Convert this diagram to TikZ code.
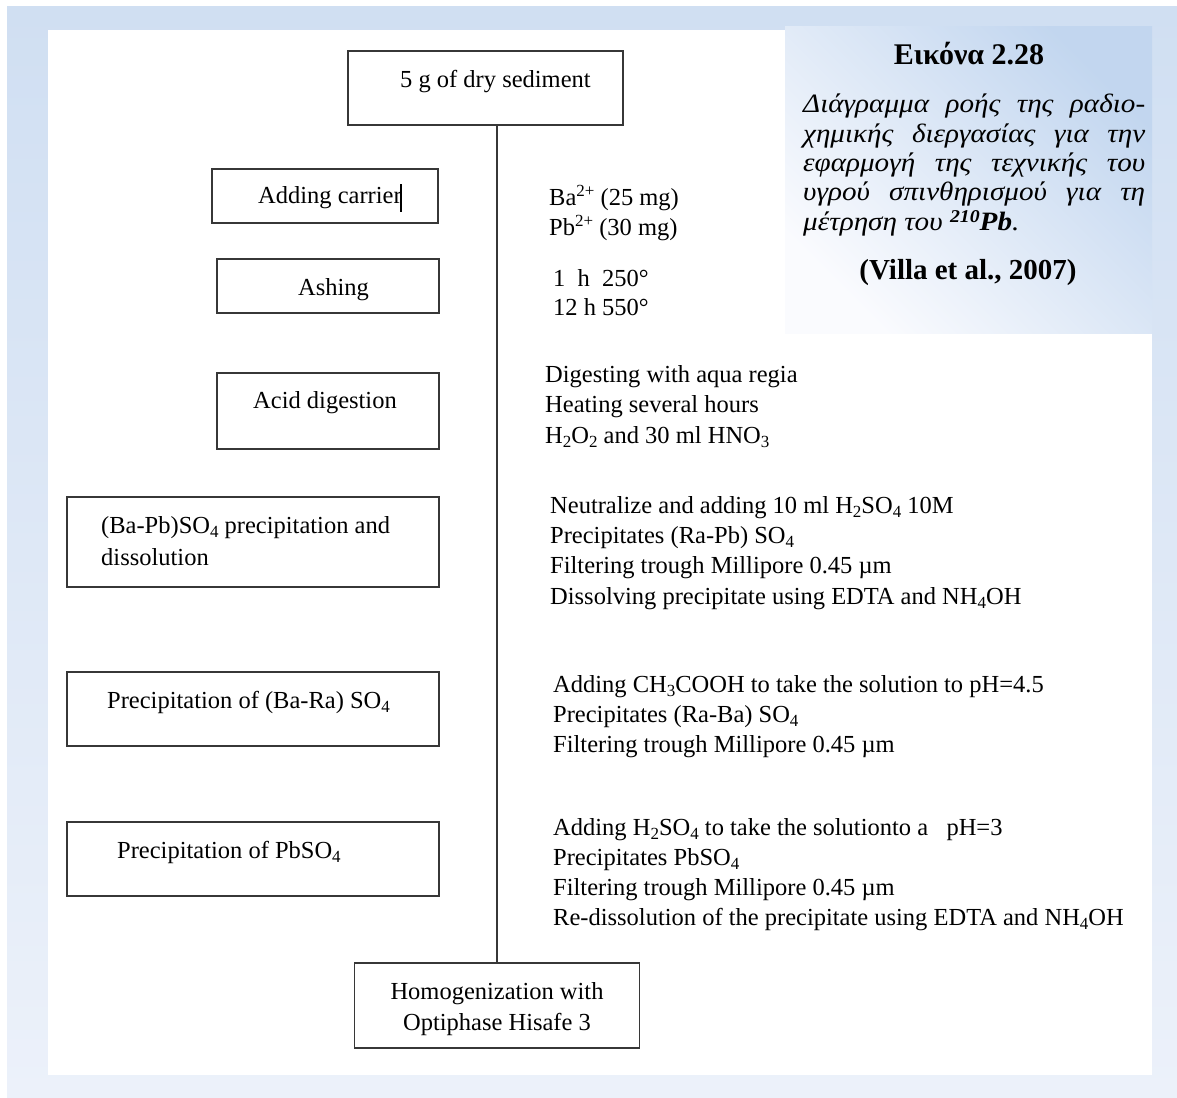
\documentclass[tikz,border=0pt]{standalone}
\usepackage{fontspec}
\setmainfont{Liberation Serif}
\newfontfamily\capfont[FakeStretch=1.1]{Liberation Serif}
\definecolor{outerA}{RGB}{208,223,242}
\definecolor{outerB}{RGB}{236,241,250}
\definecolor{capblue}{RGB}{194,214,239}
\definecolor{capwhite}{RGB}{250,251,254}
\definecolor{boxline}{RGB}{55,55,55}
\newcommand\chsb[1]{\raisebox{-4.5pt}{\fontsize{17}{17}\selectfont #1}}
\newcommand\chsp[1]{\raisebox{9pt}{\fontsize{17}{17}\selectfont #1}}
\tikzset{
  stepbox/.style={draw=boxline, line width=1.6pt, rectangle, inner sep=0pt},
  lbl/.style={anchor=base west, inner sep=0pt, align=left, font=\fontsize{24.5}{30}\selectfont},
  flowline/.style={draw=boxline, line width=1.6pt},
}
\begin{document}
\begin{tikzpicture}[x=1pt,y=-1pt]
\useasboundingbox (0,0) rectangle (1177,1097);
% background frame
\shade[top color=outerA, bottom color=outerB] (7,7) rectangle (1177,1097);
\fill[white] (48,30) rectangle (1152,1075);
\shade[top color=capblue, bottom color=capwhite, shading angle=-45] (785,27) rectangle (1152,333);

% caption
\node[anchor=base, inner sep=0pt, font=\bfseries\fontsize{30}{36}\selectfont] (captitle) at (969,65) {Εικόνα 2.28};
\node[anchor=base west, inner sep=0pt, text width=342pt, align=justify,
      font=\capfont\itshape\fontsize{26.5}{29.3}\selectfont] (capbody) at (803,113)
  {\hyphenpenalty=10000 Διάγραμμα ροής της ραδιο-\linebreak χημικής διεργασίας για την\linebreak εφαρμογή της τεχνικής του\linebreak υγρού σπινθηρισμού για τη\linebreak μέτρηση του \raisebox{8pt}{\fontsize{18}{18}\selectfont\bfseries 210}\textbf{Pb}.};
\node[anchor=base, inner sep=0pt, font=\bfseries\fontsize{29}{34}\selectfont] (capsrc) at (968,279) {(Villa et al., 2007)};

% boxes
\node[stepbox, minimum width=275pt, minimum height=74pt] (top) at (485.5,88) {};
\node[stepbox, minimum width=226pt, minimum height=54pt] (carrier) at (325,196) {};
\node[stepbox, minimum width=222pt, minimum height=54pt] (ashing) at (328,286) {};
\node[stepbox, minimum width=222pt, minimum height=76pt] (acid) at (328,411) {};
\node[stepbox, minimum width=372pt, minimum height=90pt] (bapb) at (253,542) {};
\node[stepbox, minimum width=372pt, minimum height=74pt] (bara) at (253,709) {};
\node[stepbox, minimum width=372pt, minimum height=74pt] (pbso) at (253,859) {};
\node[stepbox, minimum width=285pt, minimum height=85pt] (home) at (497,1005.5) {};

% connector
\draw[flowline] (home.north) -- (home.north |- top.south);

% box labels
\node[lbl] (topt) at (400,88) {5 g of dry sediment};
\node[lbl] (carriert) at (258,203) {Adding carrier};
\draw[line width=1.4pt, black] (401,184) -- (401,212);
\node[lbl] (ashingt) at (298,295) {Ashing};
\node[lbl] (acidt) at (253,408) {Acid digestion};
\node[lbl, font=\fontsize{24.5}{32}\selectfont] (bapbt) at (101,565) {(Ba-Pb)SO\chsb{4} precipitation and\\dissolution};
\node[lbl] (barat) at (107,708) {Precipitation of (Ba-Ra) SO\chsb{4}};
\node[lbl] (pbsot) at (117,858) {Precipitation of PbSO\chsb{4}};
\node[anchor=base, inner sep=0pt, align=center, font=\fontsize{24.5}{31}\selectfont] (homet) at (497,1030) {Homogenization with\\Optiphase Hisafe 3};

% side notes
\node[lbl] (carriern) at (549,235) {Ba\chsp{2+} (25 mg)\\Pb\chsp{2+} (30 mg)};
\node[lbl, font=\fontsize{24.5}{29}\selectfont] (ashingn) at (553,315) {1\ \ h\ \ 250°\\12 h 550°};
\node[lbl, font=\fontsize{24.5}{30.5}\selectfont] (acidn) at (545,443) {Digesting with aqua regia\\Heating several hours\\H\chsb{2}O\chsb{2} and 30 ml HNO\chsb{3}};
\node[lbl, font=\fontsize{24.5}{30.3}\selectfont] (bapbn) at (550,604) {Neutralize and adding 10 ml H\chsb{2}SO\chsb{4} 10M\\Precipitates (Ra-Pb) SO\chsb{4}\\Filtering trough Millipore 0.45 µm\\Dissolving precipitate using EDTA and NH\chsb{4}OH};
\node[lbl] (baran) at (553,752) {Adding CH\chsb{3}COOH to take the solution to pH=4.5\\Precipitates (Ra-Ba) SO\chsb{4}\\Filtering trough Millipore 0.45 µm};
\node[lbl] (pbson) at (553,925) {Adding H\chsb{2}SO\chsb{4} to take the solutionto a\ \ \ pH=3\\Precipitates PbSO\chsb{4}\\Filtering trough Millipore 0.45 µm\\Re-dissolution of the precipitate using EDTA and NH\chsb{4}OH};
\end{tikzpicture}
\end{document}
